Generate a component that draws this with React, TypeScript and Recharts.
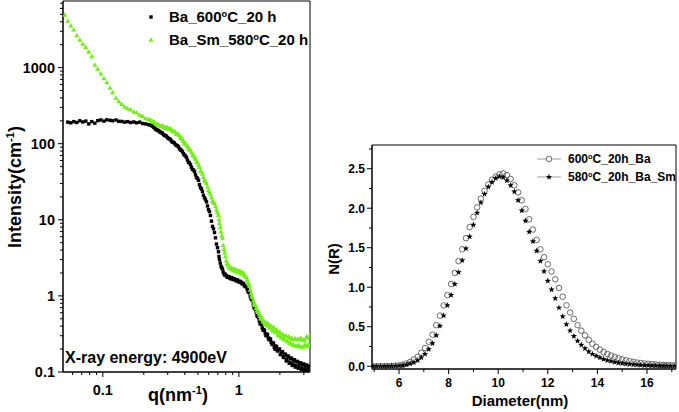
import React from "react";
import { ScatterChart, Scatter, XAxis, YAxis, Legend, ReferenceArea, Customized } from "recharts";

const FONT = '"Liberation Sans", Arial, sans-serif';
const GREEN = "#74ee1c";

// ---- left panel: SAXS intensity vs q (log-log) ----
// first pass of readings, then a second pass taken between them where the data gets dense
const qValues = [
  0.0526, 0.0553, 0.0582, 0.0612, 0.0644, 0.0678, 0.0713, 0.075, 0.0789, 0.083,
  0.0874, 0.0919, 0.0967, 0.102, 0.107, 0.113, 0.118, 0.125, 0.131, 0.138,
  0.145, 0.152, 0.16, 0.169, 0.177, 0.187, 0.196, 0.206, 0.217,
  0.224, 0.232, 0.24, 0.248, 0.257, 0.265, 0.274, 0.284, 0.294, 0.304,
  0.314, 0.325, 0.336, 0.348, 0.36, 0.372, 0.385, 0.398, 0.412, 0.426,
  0.441, 0.456, 0.472, 0.488, 0.505, 0.522, 0.54, 0.559, 0.578, 0.598,
  0.618, 0.64, 0.662, 0.684, 0.708,
  0.72, 0.739, 0.758, 0.777, 0.797, 0.818, 0.839, 0.86, 0.882, 0.905,
  0.928, 0.952, 0.977, 1.002, 1.028, 1.054, 1.081, 1.109, 1.137, 1.167,
  1.197, 1.227, 1.259, 1.291, 1.324, 1.358, 1.393, 1.429, 1.466, 1.504,
  1.542, 1.582, 1.623, 1.664, 1.707, 1.751, 1.796, 1.842, 1.889, 1.938,
  1.988, 2.039, 2.091, 2.145, 2.2, 2.257, 2.315, 2.374, 2.435, 2.498,
  2.562, 2.628, 2.695, 2.765, 2.836, 2.909, 2.983, 3.06, 3.139, 3.22, 3.3,
  // second pass
  0.228, 0.236, 0.244, 0.252, 0.261, 0.27, 0.279, 0.289, 0.299, 0.309,
  0.32, 0.33, 0.342, 0.354, 0.366, 0.378, 0.391, 0.405, 0.419, 0.433,
  0.448, 0.464, 0.48, 0.496, 0.513, 0.531, 0.549, 0.568, 0.588, 0.608,
  0.629, 0.651, 0.673, 0.696, 0.714,
  0.729, 0.748, 0.767, 0.787, 0.807, 0.828, 0.849, 0.871, 0.893, 0.916,
  0.94, 0.964, 0.989, 1.015, 1.041, 1.067, 1.095, 1.123, 1.152, 1.182,
  1.212, 1.243, 1.275, 1.307, 1.341, 1.375, 1.411, 1.447, 1.485, 1.523,
  1.562, 1.602, 1.643, 1.685, 1.729, 1.773, 1.819, 1.865, 1.913, 1.963,
  2.013, 2.065, 2.118, 2.172, 2.228, 2.286, 2.344, 2.404, 2.466, 2.53,
  2.595, 2.661, 2.73, 2.8, 2.872, 2.946, 3.021, 3.099, 3.179, 3.26,
];

const intensityBa600: (number | null)[] = [
  null, 192, 188, 195, 190, 200, 193, 198, 182, 195,
  186, 201, 205, 198, 206, 203, 200, 205, 197, 196,
  192, 195, 190, 193, 188, 192, 184, 182, 178,
  176, 170, 162, 152, 148, 141, 137, 128, 125, 117,
  113, 105, 102, 95, 91, 83, 79, 71, 66, 57,
  53, 46, 43, 36, 33, 26.5, 23.5, 19.5, 17.2, 13.6,
  11.4, 8.2, 6.8, 4.8, 3.8,
  3.0, 2.45, 2.25, 1.95, 1.92, 1.78, 1.8, 1.7, 1.74, 1.64,
  1.68, 1.58, 1.62, 1.52, 1.55, 1.44, 1.45, 1.33, 1.3, 1.14,
  1.08, 0.92, 0.85, 0.7, 0.66, 0.55, 0.52, 0.43, 0.42, 0.355,
  0.35, 0.3, 0.31, 0.265, 0.27, 0.23, 0.24, 0.2, 0.215, 0.19,
  0.2, 0.17, 0.185, 0.155, 0.17, 0.145, 0.16, 0.135, 0.152, 0.128,
  0.145, 0.122, 0.138, 0.118, 0.132, 0.113, 0.128, 0.11, 0.124, 0.107, 0.12,
  // second pass
  173, 165, 156, 151, 144, 140, 132, 128, 120, 116,
  108, 104, 97, 94, 86, 82, 74, 69, 61, 56,
  49, 45, 39, 35, 29, 25.5, 21, 18.5, 15.2, 12.8,
  9.6, 7.6, 5.8, 4.3, 3.3,
  2.7, 2.35, 2.05, 1.88, 1.84, 1.75, 1.78, 1.68, 1.7, 1.66,
  1.63, 1.6, 1.55, 1.55, 1.5, 1.47, 1.38, 1.34, 1.22, 1.12,
  0.98, 0.9, 0.76, 0.69, 0.6, 0.54, 0.47, 0.44, 0.38, 0.36,
  0.32, 0.315, 0.28, 0.275, 0.245, 0.24, 0.21, 0.22, 0.19, 0.2,
  0.17, 0.185, 0.158, 0.172, 0.14, 0.162, 0.13, 0.15, 0.122, 0.142,
  0.116, 0.136, 0.112, 0.13, 0.108, 0.125, 0.104, 0.12, 0.102, 0.116,
];

const intensityBaSm580: (number | null)[] = [
  4900, 4100, 3550, 3150, 2650, 2300, 2050, 1850, 1600, 1400,
  1080, 960, 830, 720, 640, 540, 470, 400, 360, 330,
  305, 290, 280, 262, 255, 238, 230, 215, 210,
  204, 196, 190, 181, 178, 170, 171, 163, 165, 157,
  158, 147, 145, 133, 132, 119, 114, 100, 97, 85,
  82, 70, 67, 58, 53, 44, 40, 33, 30, 24.5,
  21.5, 17.5, 16.5, 13.5, 11.5,
  9.0, 7.0, 5.7, 4.1, 3.3, 2.65, 2.5, 2.3, 2.3, 2.15,
  2.25, 2.1, 2.15, 2.02, 2.1, 1.95, 1.98, 1.82, 1.75, 1.5,
  1.35, 1.08, 0.95, 0.78, 0.75, 0.64, 0.62, 0.54, 0.53, 0.47,
  0.46, 0.42, 0.44, 0.4, 0.41, 0.37, 0.39, 0.34, 0.36, 0.31,
  0.335, 0.29, 0.315, 0.27, 0.3, 0.255, 0.29, 0.24, 0.28, 0.23,
  0.275, 0.22, 0.27, 0.225, 0.28, 0.215, 0.265, 0.23, 0.29, 0.22, 0.3,
  // second pass
  200, 193, 186, 176, 175, 168, 167, 160, 162, 155,
  153, 146, 140, 134, 127, 120, 108, 101, 92, 86,
  77, 71, 63, 57, 49, 43, 36, 32, 27, 23,
  19.5, 17, 15, 12.5, 10,
  8.0, 6.2, 4.6, 3.7, 2.9, 2.6, 2.4, 2.35, 2.22, 2.28,
  2.15, 2.2, 2.08, 2.12, 2.0, 2.02, 1.9, 1.8, 1.62, 1.42,
  1.2, 1.0, 0.86, 0.76, 0.69, 0.61, 0.58, 0.5, 0.5, 0.45,
  0.44, 0.41, 0.42, 0.38, 0.39, 0.35, 0.37, 0.33, 0.345, 0.3,
  0.325, 0.28, 0.305, 0.265, 0.295, 0.25, 0.285, 0.235, 0.27, 0.225,
  0.27, 0.22, 0.265, 0.215, 0.27, 0.21, 0.26, 0.22, 0.28, 0.23,
];

const qMajor = [0.1, 1];
const qMinor = [0.06, 0.07, 0.08, 0.09, 0.2, 0.3, 0.4, 0.5, 0.6, 0.7, 0.8, 0.9, 2, 3];
const iMajor = [0.1, 1, 10, 100, 1000];
const iMinor = [
  0.2, 0.3, 0.4, 0.5, 0.6, 0.7, 0.8, 0.9, 2, 3, 4, 5, 6, 7, 8, 9,
  20, 30, 40, 50, 60, 70, 80, 90, 200, 300, 400, 500, 600, 700, 800, 900,
  2000, 3000, 4000, 5000, 6000, 7000,
];

// ---- right panel: size distribution ----
const diameters = [
  4.95, 5.1, 5.25, 5.4, 5.55, 5.7, 5.85, 6.0, 6.15, 6.3,
  6.45, 6.6, 6.75, 6.9, 7.05, 7.2, 7.35, 7.5, 7.65, 7.8,
  7.95, 8.1, 8.25, 8.4, 8.55, 8.7, 8.85, 9.0, 9.15, 9.3,
  9.45, 9.6, 9.75, 9.9, 10.05, 10.2, 10.35, 10.5, 10.65, 10.8,
  10.95, 11.1, 11.25, 11.4, 11.55, 11.7, 11.85, 12.0, 12.15, 12.3,
  12.45, 12.6, 12.75, 12.9, 13.05, 13.2, 13.35, 13.5, 13.65, 13.8,
  13.95, 14.1, 14.25, 14.4, 14.55, 14.7, 14.85, 15.0, 15.15, 15.3,
  15.45, 15.6, 15.75, 15.9, 16.05, 16.2, 16.35, 16.5, 16.65, 16.8,
  16.95, 17.1,
];

const nBa600 = [
  0, 0, 0, 0, 0.001, 0.003, 0.006, 0.01, 0.02, 0.035,
  0.055, 0.085, 0.12, 0.17, 0.23, 0.31, 0.4, 0.52, 0.64, 0.77,
  0.9, 1.04, 1.18, 1.33, 1.48, 1.62, 1.76, 1.89, 2.01, 2.12,
  2.22, 2.3, 2.36, 2.4, 2.43, 2.44, 2.42, 2.37, 2.29, 2.2,
  2.1, 1.99, 1.86, 1.73, 1.6, 1.48, 1.38, 1.29, 1.2, 1.1,
  0.99, 0.88, 0.77, 0.68, 0.6, 0.52, 0.45, 0.39, 0.335, 0.285,
  0.245, 0.21, 0.18, 0.155, 0.135, 0.118, 0.1, 0.086, 0.074, 0.063,
  0.054, 0.046, 0.04, 0.035, 0.03, 0.026, 0.022, 0.019, 0.016, 0.014,
  0.012, 0.01,
];

const nBaSm580 = [
  0, 0, 0, 0, 0, 0.001, 0.003, 0.006, 0.011, 0.02,
  0.033, 0.05, 0.075, 0.11, 0.155, 0.215, 0.29, 0.39, 0.51, 0.64,
  0.77, 0.9, 1.04, 1.19, 1.34, 1.49, 1.64, 1.79, 1.94, 2.07,
  2.18, 2.27, 2.33, 2.38, 2.4, 2.39, 2.35, 2.29, 2.21, 2.1,
  1.97, 1.84, 1.7, 1.58, 1.46, 1.33, 1.2, 1.08, 0.97, 0.86,
  0.74, 0.63, 0.53, 0.45, 0.38, 0.32, 0.27, 0.225, 0.185, 0.155,
  0.13, 0.11, 0.09, 0.075, 0.063, 0.052, 0.043, 0.036, 0.03, 0.025,
  0.02, 0.017, 0.014, 0.012, 0.01, 0.008, 0.007, 0.006, 0.005, 0.004,
  0.003, 0.003,
];

const dMajor = [6, 8, 10, 12, 14, 16];
const dMinor = [5, 7, 9, 11, 13, 15, 17];
const nMajor = [0, 0.5, 1, 1.5, 2, 2.5];
const nMinor = [0.25, 0.75, 1.25, 1.75, 2.25, 2.75];

const saxsBa = qValues
  .map((q, i) => ({ q, I: intensityBa600[i] }))
  .filter(p => p.I != null);
const saxsBaSm = qValues
  .map((q, i) => ({ q, I: intensityBaSm580[i] }))
  .filter(p => p.I != null);
const distBa = diameters.map((d, i) => ({ d, n: nBa600[i] }));
const distBaSm = diameters.map((d, i) => ({ d, n: nBaSm580[i] }));

// ---- marker shapes ----
const Square = (p: any) => (
  <rect x={p.cx - 1.7} y={p.cy - 1.7} width={3.4} height={3.4} fill="#000" />
);
const Triangle = (p: any) => (
  <path d={`M${p.cx},${p.cy - 2.7}L${p.cx + 2.6},${p.cy + 1.8}L${p.cx - 2.6},${p.cy + 1.8}Z`} fill={GREEN} />
);
const Ring = (p: any) => (
  <circle cx={p.cx} cy={p.cy} r={2.8} fill="none" stroke="#5a5a5a" strokeWidth={0.9} />
);
function starPath(cx: number, cy: number, R: number, r: number) {
  let d = "";
  for (let k = 0; k < 10; k++) {
    const a = -Math.PI / 2 + (k * Math.PI) / 5;
    const rad = k % 2 === 0 ? R : r;
    d += (k === 0 ? "M" : "L") + (cx + rad * Math.cos(a)).toFixed(2) + "," + (cy + rad * Math.sin(a)).toFixed(2);
  }
  return d + "Z";
}
const Star = (p: any) => <path d={starPath(p.cx, p.cy, 3.3, 1.35)} fill="#000" />;

// ---- ticks: majors get a label, minors only a short mark ----
const makeBottomTick = (majors: number[], fmt: (v: number) => string, fontSize: number, dy: number) =>
  (p: any) => {
    const v = p.payload.value;
    const major = majors.includes(v);
    return (
      <g>
        <line x1={p.x} x2={p.x} y1={p.y} y2={p.y + (major ? 5 : 3)} stroke="#000" />
        {major && (
          <text x={p.x} y={p.y + dy} textAnchor="middle" fontSize={fontSize} fontWeight="bold" fontFamily={FONT} fill="#000">
            {fmt(v)}
          </text>
        )}
      </g>
    );
  };
const makeLeftTick = (majors: number[], fmt: (v: number) => string, fontSize: number, gap: number) =>
  (p: any) => {
    const v = p.payload.value;
    const major = majors.includes(v);
    return (
      <g>
        <line x1={p.x} x2={p.x - (major ? 5 : 3)} y1={p.y} y2={p.y} stroke="#000" />
        {major && (
          <text x={p.x - gap} y={p.y} dy="0.36em" textAnchor="end" fontSize={fontSize} fontWeight="bold" fontFamily={FONT} fill="#000">
            {fmt(v)}
          </text>
        )}
      </g>
    );
  };

const sup = { fontSize: "0.62em", verticalAlign: "0.5em", lineHeight: 0 } as const;

const LeftLegend = () => (
  <div style={{ fontFamily: FONT, fontWeight: "bold", fontSize: 15, color: "#000" }}>
    <div style={{ display: "flex", alignItems: "center", height: 23 }}>
      <svg width={14} height={14}><rect x={5.3} y={5.3} width={3.4} height={3.4} fill="#000" /></svg>
      <span style={{ marginLeft: 11, whiteSpace: "nowrap" }}>Ba_600<span style={sup}>o</span>C_20 h</span>
    </div>
    <div style={{ display: "flex", alignItems: "center", height: 23 }}>
      <svg width={14} height={14}><path d="M7,4.3L9.6,8.8L4.4,8.8Z" fill={GREEN} /></svg>
      <span style={{ marginLeft: 11, whiteSpace: "nowrap" }}>Ba_Sm_580<span style={sup}>o</span>C_20 h</span>
    </div>
  </div>
);

const RightLegend = () => (
  <div style={{ fontFamily: FONT, fontWeight: "bold", fontSize: 12, color: "#000" }}>
    <div style={{ display: "flex", alignItems: "center", height: 18 }}>
      <svg width={28} height={12}>
        <line x1={2} x2={26} y1={6} y2={6} stroke="#888" strokeWidth={0.8} />
        <circle cx={14} cy={6} r={2.8} fill="#fff" stroke="#5a5a5a" strokeWidth={0.9} />
      </svg>
      <span style={{ marginLeft: 5, whiteSpace: "nowrap" }}>600<span style={sup}>o</span>C_20h_Ba</span>
    </div>
    <div style={{ display: "flex", alignItems: "center", height: 18 }}>
      <svg width={28} height={12}>
        <line x1={2} x2={26} y1={6} y2={6} stroke="#888" strokeWidth={0.8} />
        <path d={starPath(14, 6, 3.3, 1.35)} fill="#000" />
      </svg>
      <span style={{ marginLeft: 5, whiteSpace: "nowrap" }}>580<span style={sup}>o</span>C_20h_Ba_Sm</span>
    </div>
  </div>
);

const LeftTitles = () => (
  <g fontFamily={FONT} fontWeight="bold" fill="#000">
    <text transform="translate(21,187) rotate(-90)" textAnchor="middle" fontSize={18}>
      Intensity(cm<tspan dy={-7} fontSize={11}>-1</tspan><tspan dy={7}>)</tspan>
    </text>
    <text x={178} y={401} textAnchor="middle" fontSize={18}>
      q(nm<tspan dy={-7} fontSize={11}>-1</tspan><tspan dy={7}>)</tspan>
    </text>
    <text x={65} y={363} fontSize={16}>X-ray energy: 4900eV</text>
  </g>
);

const RightTitles = () => (
  <g fontFamily={FONT} fontWeight="bold" fill="#000">
    <text transform="translate(19,259) rotate(-90)" textAnchor="middle" fontSize={15}>N(R)</text>
    <text x={200} y={406} textAnchor="middle" fontSize={15}>Diameter(nm)</text>
  </g>
);

export default function App() {
  return (
    <div style={{ position: "absolute", left: 0, top: 0, width: 679, height: 412, background: "#fff", overflow: "hidden" }}>
      <div style={{ position: "absolute", left: 0, top: 0 }}>
        <ScatterChart width={340} height={412} margin={{ top: 1, right: 30, bottom: 0, left: 0 }}>
          <XAxis
            type="number" dataKey="q" scale="log" domain={[0.051, 3.33]} allowDataOverflow
            ticks={[...qMajor, ...qMinor]} interval={0} height={40}
            tickSize={0} tickMargin={0} tickLine={false}
            axisLine={{ stroke: "#000" }}
            tick={makeBottomTick(qMajor, v => String(v), 14.5, 23)}
          />
          <YAxis
            type="number" dataKey="I" scale="log" domain={[0.1, 7500]} allowDataOverflow
            ticks={[...iMajor, ...iMinor]} interval={0} width={63}
            tickSize={0} tickMargin={0} tickLine={false}
            axisLine={{ stroke: "#000" }}
            tick={makeLeftTick(iMajor, v => String(v), 14.5, 8)}
          />
          <ReferenceArea x1={0.051} x2={3.33} y1={0.1} y2={7500} fill="none" stroke="#000" ifOverflow="visible" />
          <Scatter name="Ba_600" data={saxsBa} shape={Square} isAnimationActive={false} />
          <Scatter name="Ba_Sm_580" data={saxsBaSm} shape={Triangle} isAnimationActive={false} />
          <Legend layout="vertical" align="center" verticalAlign="middle" content={() => <LeftLegend />}
            wrapperStyle={{ left: 144, top: 5, width: "auto" }} />
          <Customized component={<LeftTitles />} />
        </ScatterChart>
      </div>
      <div style={{ position: "absolute", left: 320, top: 0 }}>
        <ScatterChart width={359} height={412} margin={{ top: 145, right: 3, bottom: 0, left: 0 }}>
          <XAxis
            type="number" dataKey="d" domain={[4.91, 17.17]} allowDataOverflow
            ticks={[...dMajor, ...dMinor]} interval={0} height={43}
            tickSize={0} tickMargin={0} tickLine={false}
            axisLine={{ stroke: "#000" }}
            tick={makeBottomTick(dMajor, v => String(v), 12, 18)}
          />
          <YAxis
            type="number" dataKey="n" domain={[-0.035, 2.8]} allowDataOverflow
            ticks={[...nMajor, ...nMinor]} interval={0} width={52}
            tickSize={0} tickMargin={0} tickLine={false}
            axisLine={{ stroke: "#000" }}
            tick={makeLeftTick(nMajor, v => v.toFixed(1), 12, 7)}
          />
          <ReferenceArea x1={4.91} x2={17.17} y1={-0.035} y2={2.8} fill="none" stroke="#000" ifOverflow="visible" />
          <Scatter name="600C_20h_Ba" data={distBa} shape={Ring} isAnimationActive={false} />
          <Scatter name="580C_20h_Ba_Sm" data={distBaSm} shape={Star} isAnimationActive={false} />
          <Legend layout="vertical" align="center" verticalAlign="middle" content={() => <RightLegend />}
            wrapperStyle={{ left: 215, top: 150, width: "auto" }} />
          <Customized component={<RightTitles />} />
        </ScatterChart>
      </div>
    </div>
  );
}
